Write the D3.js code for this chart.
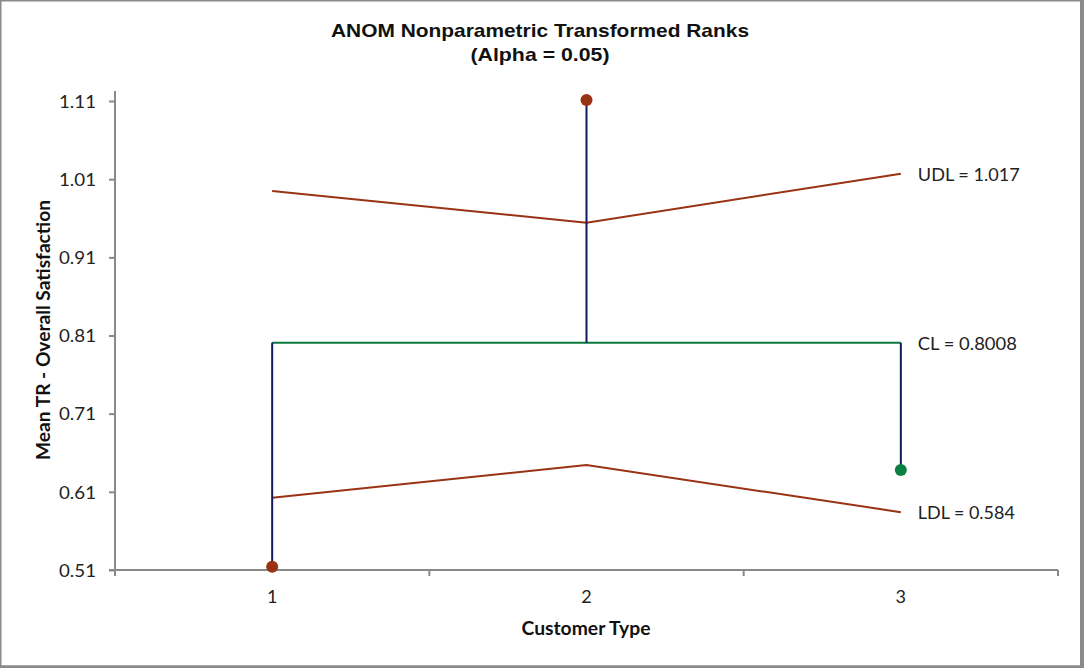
<!DOCTYPE html>
<html>
<head>
<meta charset="utf-8">
<script src="https://cdn.jsdelivr.net/npm/d3@7/dist/d3.min.js"></script>
<style>
  html, body { margin: 0; padding: 0; background: #fff; }
  svg { display: block; }
</style>
</head>
<body>
<svg id="chart" width="1084" height="668"></svg>
<script>
// ---- data ----
const categories = ["1", "2", "3"];
const means = [0.5142, 1.1113, 0.638];
const pointColors = ["#9A3214", "#9A3214", "#0A8040"];
const udl = [0.9949, 0.9543, 1.017];
const ldl = [0.6025, 0.6443, 0.584];
const centerLine = 0.8008;
const yTicks = [0.51, 0.61, 0.71, 0.81, 0.91, 1.01, 1.11];
const limitLabels = ["UDL = 1.017", "CL = 0.8008", "LDL = 0.584"];
const titleLines = ["ANOM Nonparametric Transformed Ranks", "(Alpha = 0.05)"];
const xTitle = "Customer Type";
const yTitle = "Mean TR - Overall Satisfaction";

// ---- layout ----
const W = 1084, H = 668;
const plot = { left: 115, right: 1058, top: 91, bottom: 570 };
const svg = d3.select("#chart");

// border
svg.append("rect").attr("x", 0).attr("y", 0).attr("width", W).attr("height", H).attr("fill", "#fff");
svg.append("rect").attr("x", 0.75).attr("y", 0.75).attr("width", 1080).attr("height", 665.5)
  .attr("fill", "none").attr("stroke", "#8a8a8a").attr("stroke-width", 1.5);
svg.append("rect").attr("x", 1080).attr("y", 0).attr("width", 4).attr("height", H).attr("fill", "#8a8a8a");
svg.append("rect").attr("x", 0).attr("y", 665.5).attr("width", 1084).attr("height", 2.5).attr("fill", "#8a8a8a");

const x = d3.scaleBand().domain(categories).range([plot.left, plot.right]).padding(0);
const y = d3.scaleLinear().domain([0.51, 1.11]).range([570, 101]);
const cx = c => x(c) + x.bandwidth() / 2;

const tickFont = "Lato, 'Open Sans', sans-serif";

// y axis
const yAxis = svg.append("g").attr("transform", `translate(${plot.left},0)`)
  .call(d3.axisLeft(y).tickValues(yTicks).tickFormat(d3.format(".2f")).tickSize(6).tickSizeOuter(0));
yAxis.select(".domain").remove();
yAxis.append("line").attr("x1", 0).attr("x2", 0).attr("y1", plot.top).attr("y2", 576)
  .attr("stroke", "#898989").attr("stroke-width", 2);
yAxis.selectAll(".tick line").attr("stroke", "#898989").attr("stroke-width", 2);
yAxis.selectAll(".tick text").attr("x", -19).attr("dy", "0.35em")
  .attr("fill", "#222").style("font-family", tickFont).style("font-size", "18px")
  .attr("textLength", 37).attr("lengthAdjust", "spacingAndGlyphs");

// x axis
const xAxis = svg.append("g").attr("transform", `translate(0,${plot.bottom})`)
  .call(d3.axisBottom(x).tickSize(0).tickSizeOuter(0));
xAxis.select(".domain").remove();
xAxis.append("line").attr("x1", 109).attr("x2", plot.right).attr("y1", 0).attr("y2", 0)
  .attr("stroke", "#898989").attr("stroke-width", 2);
// boundary ticks between categories
const bounds = categories.map(c => x(c)).concat([x(categories[categories.length - 1]) + x.bandwidth()]);
xAxis.selectAll(".bound").data(bounds).join("line").attr("class", "bound")
  .attr("x1", d => d).attr("x2", d => d).attr("y1", 0).attr("y2", 6)
  .attr("stroke", "#898989").attr("stroke-width", 2);
xAxis.selectAll(".tick text").attr("y", 33).attr("dy", 0)
  .attr("fill", "#222").style("font-family", tickFont).style("font-size", "18px");

// limit lines
const line = d3.line().x((d, i) => cx(categories[i])).y(d => y(d));
const limitColor = "#9A3214";
svg.append("path").datum(udl).attr("d", line).attr("fill", "none").attr("stroke", limitColor).attr("stroke-width", 2);
svg.append("path").datum(ldl).attr("d", line).attr("fill", "none").attr("stroke", limitColor).attr("stroke-width", 2);

// center line
svg.append("line").attr("x1", cx(categories[0])).attr("x2", cx(categories[2]))
  .attr("y1", y(centerLine)).attr("y2", y(centerLine))
  .attr("stroke", "#0A7A3C").attr("stroke-width", 2);

// stems
svg.selectAll(".stem").data(means).join("line").attr("class", "stem")
  .attr("x1", (d, i) => cx(categories[i])).attr("x2", (d, i) => cx(categories[i]))
  .attr("y1", y(centerLine)).attr("y2", d => y(d))
  .attr("stroke", "#10195E").attr("stroke-width", 2);

// points
svg.selectAll(".pt").data(means).join("circle").attr("class", "pt")
  .attr("cx", (d, i) => cx(categories[i])).attr("cy", d => y(d)).attr("r", 6)
  .attr("fill", (d, i) => pointColors[i]);

// limit labels
const labelVals = [udl[2], centerLine, ldl[2]];
const labelWidths = [102, 99, 97];
svg.selectAll(".lim").data(limitLabels).join("text").attr("class", "lim")
  .attr("x", cx(categories[2]) + 17).attr("y", (d, i) => y(labelVals[i]) + 1).attr("dy", "0.35em")
  .attr("fill", "#222").style("font-family", tickFont).style("font-size", "18px")
  .attr("textLength", (d, i) => labelWidths[i]).attr("lengthAdjust", "spacingAndGlyphs")
  .text(d => d);

// titles
const titleWidths = [418, 139];
svg.selectAll(".title").data(titleLines).join("text").attr("class", "title")
  .attr("x", 540).attr("y", (d, i) => 37 + i * 24).attr("text-anchor", "middle")
  .style("font-family", "'Liberation Sans', Arial, sans-serif").style("font-weight", "bold")
  .style("font-size", "19px").attr("fill", "#111")
  .attr("textLength", (d, i) => titleWidths[i]).attr("lengthAdjust", "spacingAndGlyphs")
  .text(d => d);

svg.append("text").attr("x", 586).attr("y", 635).attr("text-anchor", "middle")
  .style("font-family", tickFont).style("font-weight", "bold").style("font-size", "18px")
  .attr("textLength", 129).attr("lengthAdjust", "spacingAndGlyphs")
  .attr("fill", "#111").text(xTitle);

svg.append("text").attr("transform", "translate(50,330) rotate(-90)").attr("text-anchor", "middle")
  .style("font-family", tickFont).style("font-weight", "bold").style("font-size", "18px")
  .attr("textLength", 260).attr("lengthAdjust", "spacingAndGlyphs")
  .attr("fill", "#111").text(yTitle);
</script>
</body>
</html>
